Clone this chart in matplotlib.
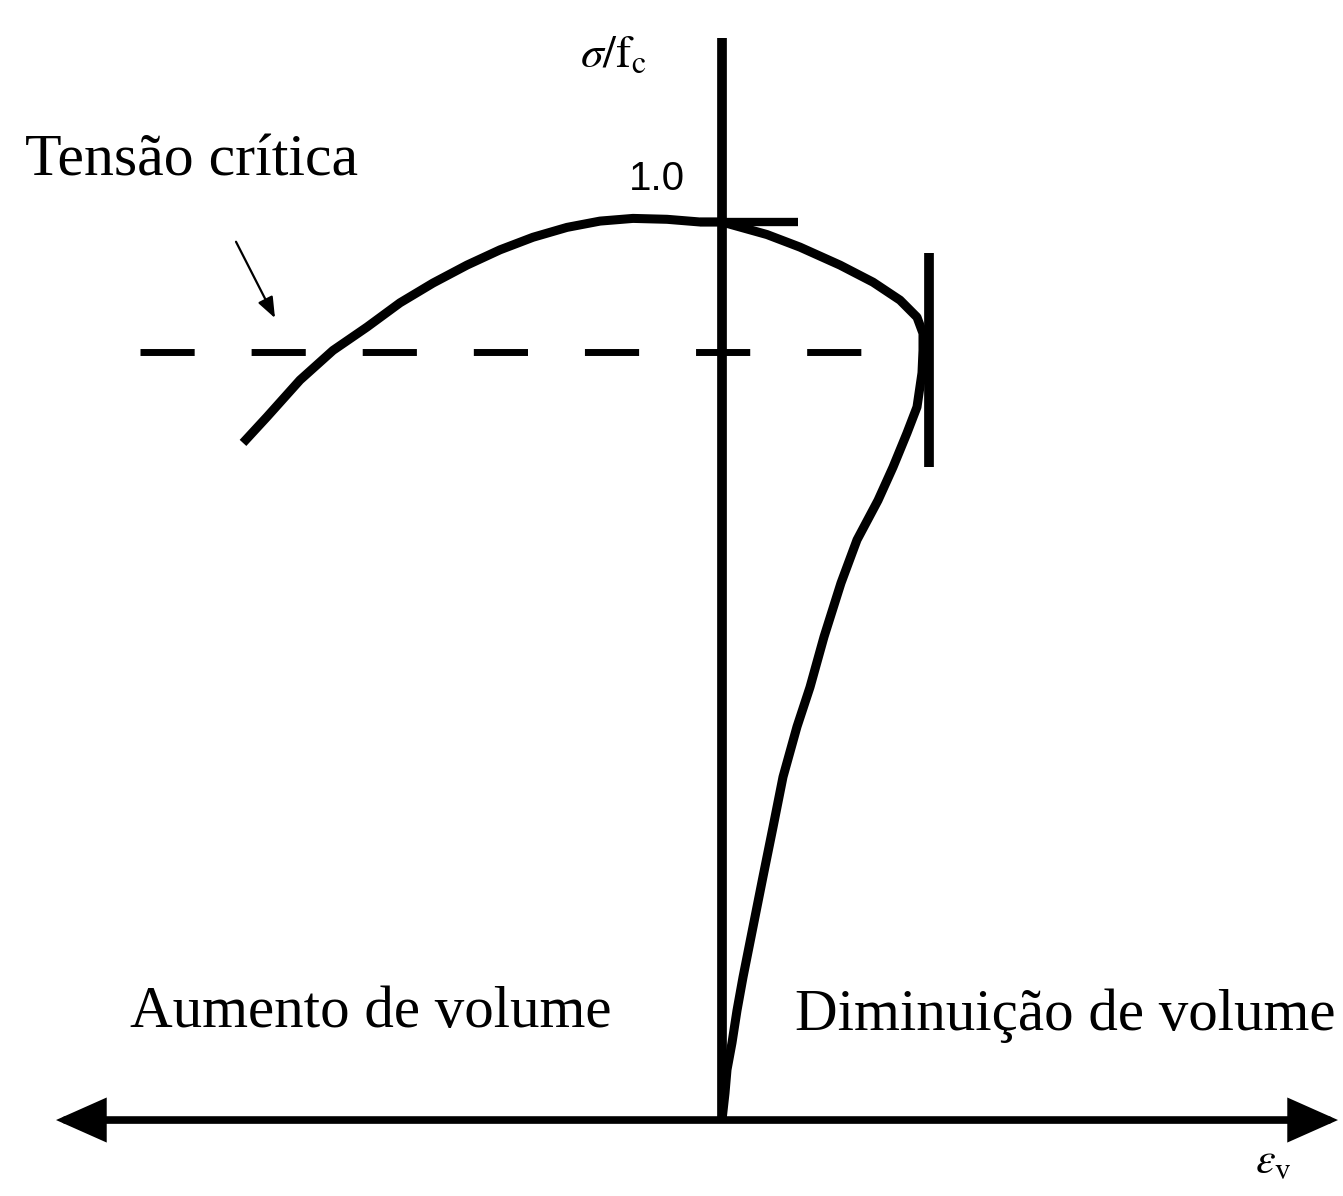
import numpy as np
import matplotlib
matplotlib.use("Agg")
import matplotlib.pyplot as plt
from matplotlib.patches import FancyArrowPatch

plt.rcParams['font.family'] = ['Liberation Serif', 'DejaVu Serif']
plt.rcParams['mathtext.fontset'] = 'stix'
plt.rcParams['lines.scale_dashes'] = False

# volumetric strain (arbitrary units) vs sigma/fc
# from the origin up the compression branch, round the turn and out to the left
eps_v = [0.0, 0.03, 0.05, 0.10, 0.15, 0.21, 0.31, 0.41, 0.51, 0.61, 0.75, 0.88,
         1.02, 1.19, 1.35, 1.56, 1.71, 1.85, 1.95, 2.00, 2.01, 2.01, 1.95,
         1.78, 1.51, 1.18, 0.78, 0.45, 0.0, -0.22, -0.55, -0.89, -1.22, -1.55,
         -1.89, -2.22, -2.55, -2.89, -3.22, -3.55, -3.89, -4.22, -4.55, -4.79]
sig_fc = [0.0, 0.030, 0.056, 0.086, 0.122, 0.159, 0.215, 0.271, 0.326, 0.382,
          0.438, 0.482, 0.538, 0.598, 0.646, 0.690, 0.727, 0.765, 0.794,
          0.832, 0.857, 0.876, 0.894, 0.913, 0.933, 0.952, 0.972, 0.986, 1.0,
          1.0, 1.003, 1.004, 1.001, 0.994, 0.983, 0.969, 0.952, 0.932, 0.910,
          0.883, 0.857, 0.824, 0.783, 0.754]

crit_level = 0.855          # tensao critica
crit_x = [-5.82, 1.40]
peak_level = 1.0
peak_tick_x = [-0.22, 0.76]
vmin_x = 2.07               # volume minimo
vmin_y = [0.727, 0.965]

fig = plt.figure(figsize=(13.43, 11.96), dpi=100)
ax = fig.add_axes([0, 0, 1, 1])
ax.set_xlim(-7.22, 6.21)
ax.set_ylim(-0.0846, 1.2472)
ax.axis('off')

# axes
ax.plot([0, 0], [0, 1.205], color='black', lw=7, solid_capstyle='butt')
ax.add_patch(FancyArrowPatch((-6.66, 0), (6.16, 0),
                             arrowstyle='<|-|>,head_length=27,head_width=12',
                             mutation_scale=1, lw=5.5, color='black',
                             shrinkA=0, shrinkB=0, joinstyle='miter'))

# curve
ax.plot(eps_v, sig_fc, color='black', lw=6.5, solid_joinstyle='round',
        solid_capstyle='butt')

# critical stress dashed line
ax.plot(crit_x, [crit_level, crit_level], color='black', lw=5,
        dashes=(39, 41), dash_capstyle='butt')

# 1.0 tick and vertical marker
ax.plot(peak_tick_x, [peak_level, peak_level], color='black', lw=6,
        solid_capstyle='butt')
ax.plot([vmin_x, vmin_x], vmin_y, color='black', lw=7, solid_capstyle='butt')

# labels
ax.text(-6.97, 1.052, 'Tensão crítica', fontsize=43, ha='left', va='baseline')
ax.annotate('', xy=(-4.47, 0.893), xytext=(-4.86, 0.978),
            arrowprops=dict(arrowstyle='-|>,head_length=0.9,head_width=0.35',
                            color='black', lw=1.6, mutation_scale=14,
                            shrinkA=0, shrinkB=0))
ax.text(-0.37, 1.036, '1.0', fontsize=29, family='Liberation Sans',
        ha='right', va='baseline')
ax.text(-1.42, 1.173, r'$\sigma/\mathrm{f}_\mathrm{c}$', fontsize=33,
        ha='left', va='baseline')
ax.text(-5.92, 0.1036, 'Aumento de volume', fontsize=42.5, ha='left', va='baseline')
ax.text(0.73, 0.100, 'Diminuição de volume', fontsize=42.5, ha='left', va='baseline')
ax.text(5.33, -0.059, r'$\varepsilon_\mathrm{v}$', fontsize=32, ha='left',
        va='baseline')

fig.savefig('out.png', dpi=100, facecolor='white')
